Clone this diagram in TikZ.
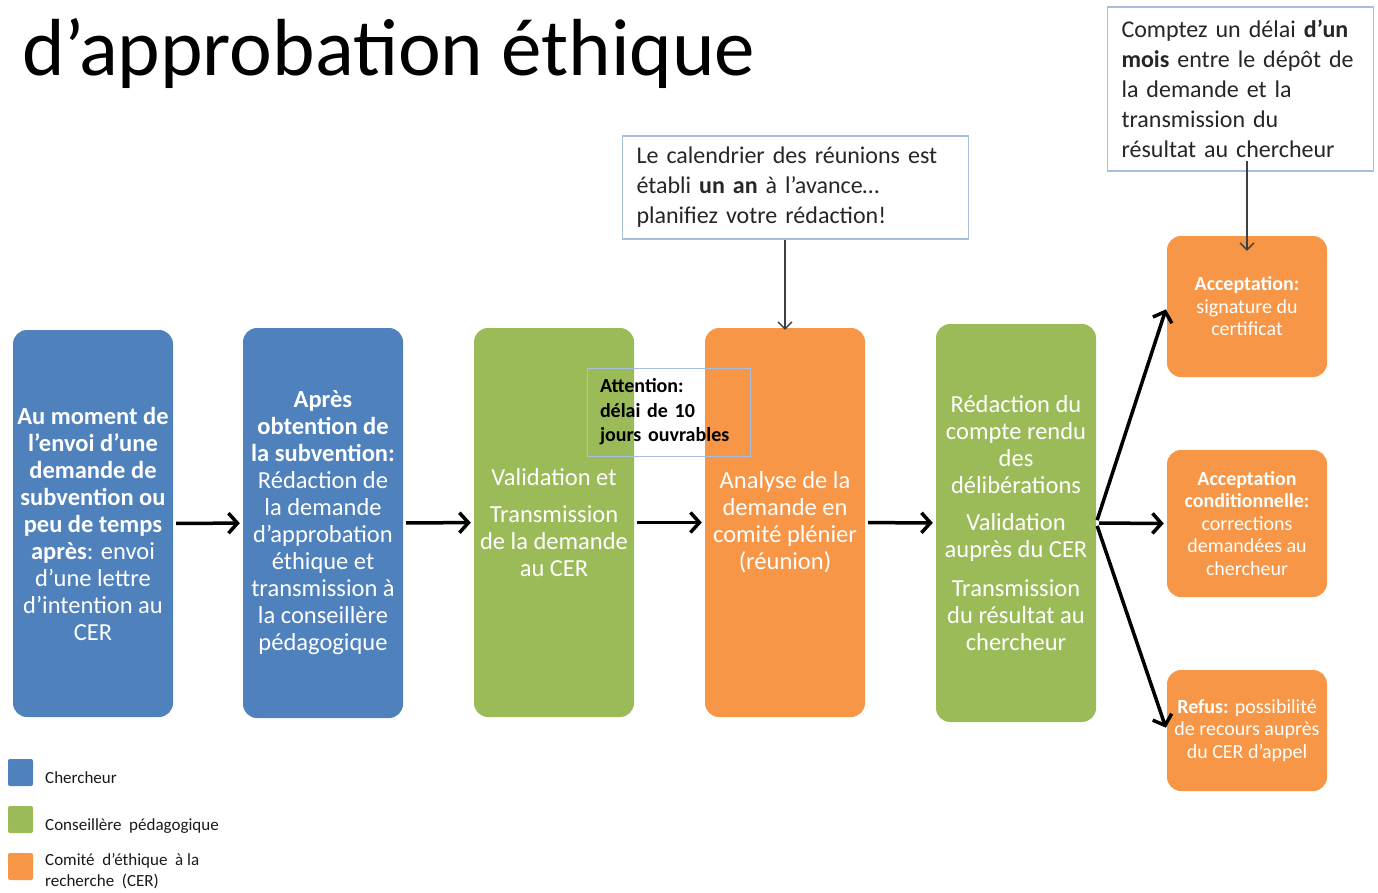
\documentclass[tikz,border=0pt]{standalone}
\usepackage{fontspec}
\setmainfont{Carlito}
\usetikzlibrary{arrows.meta,positioning}
\definecolor{cerblue}{RGB}{79,129,189}
\definecolor{cergreen}{RGB}{155,187,89}
\definecolor{cerorange}{RGB}{247,150,70}
\definecolor{noteline}{RGB}{167,191,222}
\definecolor{arrowgray}{RGB}{64,64,64}

\tikzset{
  stepbox/.style={rounded corners=14pt, minimum width=160pt, inner xsep=0pt, text=white, align=center, font=\fontsize{24.5}{27}\selectfont},
  outcome/.style={stepbox, fill=cerorange, font=\fontsize{20}{22.5}\selectfont},
  note/.style={draw=noteline, line width=1.2pt, fill=white, align=left, inner xsep=14pt, font=\fontsize{24}{30}\selectfont, text=black!85},
  flow/.style={line width=3.5pt, -{Straight Barb[length=9pt,width=20pt]}, shorten <=3pt, shorten >=3pt},
  pointer/.style={arrowgray, line width=1.3pt, -{Straight Barb[length=7pt,width=14pt]}},
  legsq/.style={rounded corners=2pt, minimum width=25pt, minimum height=27pt, inner sep=0pt},
  legtext/.style={anchor=west, inner sep=2pt, font=\fontsize{17}{21}\selectfont, align=left, text=black!90}
}

\begin{document}
\begin{tikzpicture}[x=1pt, y=-1pt]
    \useasboundingbox (0,0) rectangle (1378,892);

    % Title
    \node[anchor=base west, inner sep=0pt, font=\fontsize{81}{90}\selectfont] (title) at (22,75) {d’approbation éthique};

    % Steps
    \node[stepbox, fill=cerblue, minimum height=387pt] (demande) at (93,523.5)
        {\textbf{Au moment de}\\ \textbf{l’envoi d’une}\\ \textbf{demande de}\\ \textbf{subvention ou}\\ \textbf{peu de temps}\\ \textbf{après}: envoi\\ d’une lettre\\ d’intention au\\ CER};
    \node[stepbox, fill=cerblue, minimum height=390pt] (redaction) at (323,523)
        {\textbf{Après}\\ \textbf{obtention de}\\ \textbf{la subvention:}\\ Rédaction de\\ la demande\\ d’approbation\\ éthique et\\ transmission à\\ la conseillère\\ pédagogique};
    \node[stepbox, fill=cergreen, minimum height=389pt] (validation) at (554,522.5)
        {Validation et\\[10pt] Transmission\\ de la demande\\ au CER};
    \node[stepbox, fill=cerorange, minimum height=389pt] (analyse) at (785,522.5)
        {Analyse de la\\ demande en\\ comité plénier\\ (réunion)};
    \node[stepbox, fill=cergreen, minimum height=398pt] (compterendu) at (1016,523)
        {Rédaction du\\ compte rendu\\ des\\ délibérations\\[10pt] Validation\\ auprès du CER\\[12pt] Transmission\\ du résultat au\\ chercheur};

    % Outcomes
    \node[outcome, minimum height=141pt] (acceptation) at (1247,306.5)
        {\textbf{Acceptation:}\\ signature du\\ certificat};
    \node[outcome, minimum height=147pt] (conditionnelle) at (1247,523.5)
        {\textbf{Acceptation}\\ \textbf{conditionnelle:}\\ corrections\\ demandées au\\ chercheur};
    \node[outcome, minimum height=121pt] (refus) at (1247,730.5)
        {\textbf{Refus:} possibilité\\ de recours auprès\\ du CER d’appel};

    % Flow
    \draw[flow] (demande) -- (redaction);
    \draw[flow] (redaction) -- (validation);
    \draw[flow] (validation) -- (analyse);
    \draw[flow] (analyse) -- (compterendu);
    \draw[flow] (compterendu.east) -- (acceptation.west);
    \draw[flow] (compterendu.east) -- (conditionnelle.west);
    \draw[flow] (compterendu.east) -- (refus.west);

    % Notes
    \node[note, text width=318pt, minimum height=103pt] (calendrier) at (795.5,187.5)
        {Le calendrier des réunions est\\ établi \textbf{un an} à l’avance…\\ planifiez votre rédaction!};
    \node[note, text width=238pt, minimum height=164pt] (delai) at (1240.5,89)
        {Comptez un délai \textbf{d’un}\\ \textbf{mois} entre le dépôt de\\ la demande et la\\ transmission du\\ résultat au chercheur};
    \node[draw=noteline, line width=1pt, text width=137pt, inner xsep=13pt, minimum height=88pt, align=left,
          font=\bfseries\fontsize{20}{24.5}\selectfont] (attention) at (668.5,412)
        {Attention:\\ délai de 10\\ jours ouvrables};

    \path (delai.south -| acceptation.north) ++(0,-11) coordinate (delaifoot);
    \draw[pointer] (analyse.north |- calendrier.south) -- ([yshift=-2pt]analyse.north);
    \draw[pointer] (delaifoot) -- ([yshift=-15pt]acceptation.north);

    % Legend
    \node[legsq, fill=cerblue] (legchercheur) at (20.5,772.5) {};
    \node[legsq, fill=cergreen] (legconseil) at (20.5,819.5) {};
    \node[legsq, fill=cerorange] (legcer) at (20.5,866.5) {};
    \node[legtext] (txtchercheur) at (43,778) {Chercheur};
    \node[legtext] (txtconseil) at (43,826) {Conseillère\ \ pédagogique};
    \node[legtext] (txtcer) at (43,871.5) {Comité\ \ d’éthique\ \ à la\\ recherche\ \ (CER)};
\end{tikzpicture}
\end{document}
